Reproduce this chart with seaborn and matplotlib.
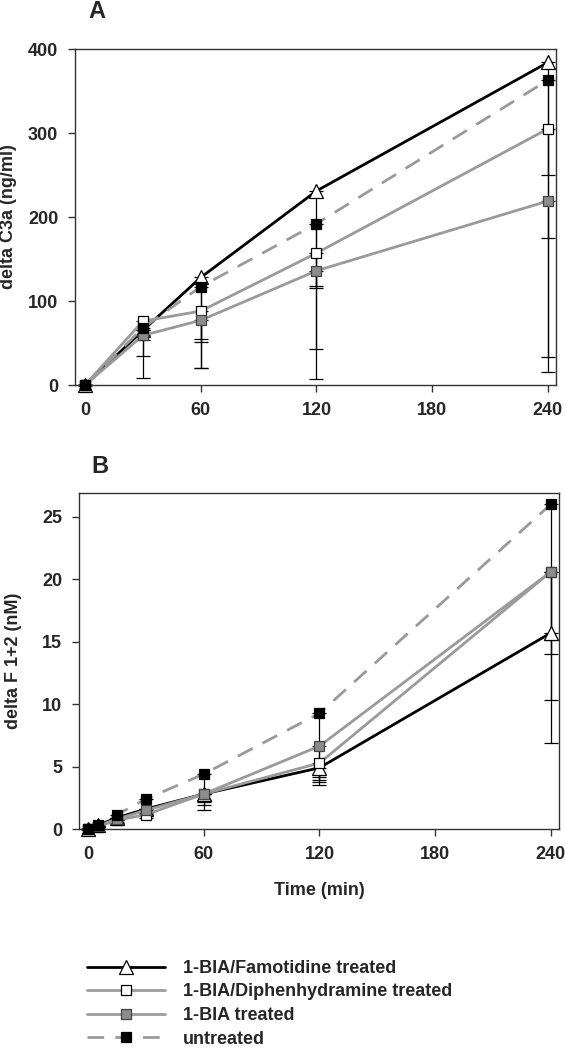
import matplotlib
matplotlib.use("Agg")
import matplotlib.pyplot as plt
from matplotlib.lines import Line2D
import numpy as np
import seaborn as sns

# ---- data ----
labels = [
    "1-BIA/Famotidine treated",
    "1-BIA/Diphenhydramine treated",
    "1-BIA treated",
    "untreated",
]

# panel A: delta C3a (ng/ml)
time_a = [0, 30, 60, 120, 240]
c3a_famotidine = [0, 65, 128, 231, 384]
c3a_diphenhydramine = [0, 76, 88, 157, 305]
c3a_bia = [0, 59, 77, 136, 219]
c3a_untreated = [0, 68, 117, 192, 363]
# lower ends of the error bars (only the downward half is visible)
c3a_famotidine_low = [0, 8, 20, 7, 15]
c3a_diphenhydramine_low = [0, 66, 55, 118, 250]
c3a_bia_low = [0, 54, 51, 115, 175]
c3a_untreated_low = [0, 34, 20, 43, 33]

# panel B: delta F 1+2 (nM)
time_b = [0, 5, 15, 30, 60, 120, 240]
f12_famotidine = [0, 0.3, 0.9, 1.6, 2.8, 4.9, 15.7]
f12_diphenhydramine = [0, 0.2, 0.7, 1.15, 2.8, 5.28, 20.6]
f12_bia = [0, 0.25, 0.8, 1.5, 2.8, 6.64, 20.6]
f12_untreated = [0, 0.35, 1.15, 2.4, 4.4, 9.26, 26.0]
f12_famotidine_low = [0, 0.2, 0.7, 1.3, 2.3, 3.55, 15.1]
f12_diphenhydramine_low = [0, 0.1, 0.5, 0.9, 1.95, 3.8, 14.0]
f12_bia_low = [0, 0.15, 0.6, 1.2, 1.55, 3.9, 10.35]
f12_untreated_low = [0, 0.25, 0.9, 1.6, 2.2, 4.2, 6.9]

sns.set_style("ticks")
plt.rcParams["font.family"] = ["Liberation Sans", "DejaVu Sans"]
plt.rcParams["font.weight"] = "bold"
plt.rcParams["axes.labelweight"] = "bold"

GRAY_LINE = "#9a9a9a"
styles = [
    dict(color="black", linewidth=2.0, marker="^", markersize=10,
         markerfacecolor="white", markeredgecolor="black", markeredgewidth=0.9),
    dict(color=GRAY_LINE, linewidth=2.0, marker="s", markersize=7.5,
         markerfacecolor="white", markeredgecolor="black", markeredgewidth=0.9),
    dict(color=GRAY_LINE, linewidth=2.0, marker="s", markersize=7.5,
         markerfacecolor="#8c8c8c", markeredgecolor="#444444", markeredgewidth=0.9),
    dict(color=GRAY_LINE, linewidth=2.0, linestyle=(0, (6, 4)), marker="s", markersize=7.5,
         markerfacecolor="black", markeredgecolor="black", markeredgewidth=0.9),
]

fig = plt.figure(figsize=(5.65, 10.5), dpi=100)
W, H = 565.0, 1050.0
axA = fig.add_axes([75 / W, 1 - 385 / H, (556 - 75) / W, (385 - 49) / H])
axB = fig.add_axes([79 / W, 1 - 829 / H, (559 - 79) / W, (829 - 493) / H])


def draw_panel(ax, t, series, lows):
    # error bars first, below the markers
    for y, lo in zip(series, lows):
        y = np.asarray(y, dtype=float)
        lo = np.asarray(lo, dtype=float)
        ax.errorbar(t, y, yerr=[y - lo, np.zeros_like(y)], fmt="none",
                    ecolor="black", elinewidth=0.9, capsize=5, capthick=0.9,
                    zorder=1.5, clip_on=False)
    for y, st in zip(series, styles):
        sns.lineplot(x=t, y=y, ax=ax, legend=False, clip_on=False, zorder=3, **st)
    for side in ["top", "right", "left", "bottom"]:
        ax.spines[side].set_color("#333333")
        ax.spines[side].set_linewidth(1.0)
    ax.tick_params(direction="out", length=5, width=1, labelsize=13, pad=7,
                   color="#333333")
    ax.set_xticks([0, 60, 120, 180, 240])


draw_panel(axA, time_a,
           [c3a_famotidine, c3a_diphenhydramine, c3a_bia, c3a_untreated],
           [c3a_famotidine_low, c3a_diphenhydramine_low, c3a_bia_low, c3a_untreated_low])
axA.set_xlim(-5.2, 244.2)
axA.set_ylim(0, 400)
axA.set_yticks([0, 100, 200, 300, 400])
axA.set_xlabel("")
axA.set_ylabel("delta C3a (ng/ml)", fontsize=13, fontweight="bold")
axA.yaxis.set_label_coords(-0.121, 0.5)

draw_panel(axB, time_b,
           [f12_famotidine, f12_diphenhydramine, f12_bia, f12_untreated],
           [f12_famotidine_low, f12_diphenhydramine_low, f12_bia_low, f12_untreated_low])
axB.set_xlim(-4.7, 244.2)
axB.set_ylim(0, 26.9)
axB.set_yticks([0, 5, 10, 15, 20, 25])
axB.set_xlabel("Time (min)", fontsize=13, fontweight="bold", labelpad=14)
axB.set_ylabel("delta F 1+2 (nM)", fontsize=13, fontweight="bold")
axB.yaxis.set_label_coords(-0.119, 0.5)

for axis in (axA, axB):
    for lab in axis.get_xticklabels() + axis.get_yticklabels():
        lab.set_fontweight("bold")

fig.text(97 / W, 1 - 12 / H, "A", fontsize=17, fontweight="bold", ha="center", va="center")
fig.text(100 / W, 1 - 466 / H, "B", fontsize=17, fontweight="bold", ha="center", va="center")

handles = [Line2D([], [], **st) for st in styles]
fig.legend(handles, labels, loc="upper left", bbox_to_anchor=(87 / W, 1 - 960 / H),
           frameon=False, handlelength=4.3, handletextpad=1.0,
           labelspacing=0.36, borderpad=0, borderaxespad=0,
           prop={"weight": "bold", "size": 13})

fig.savefig("out.png", dpi=100)
